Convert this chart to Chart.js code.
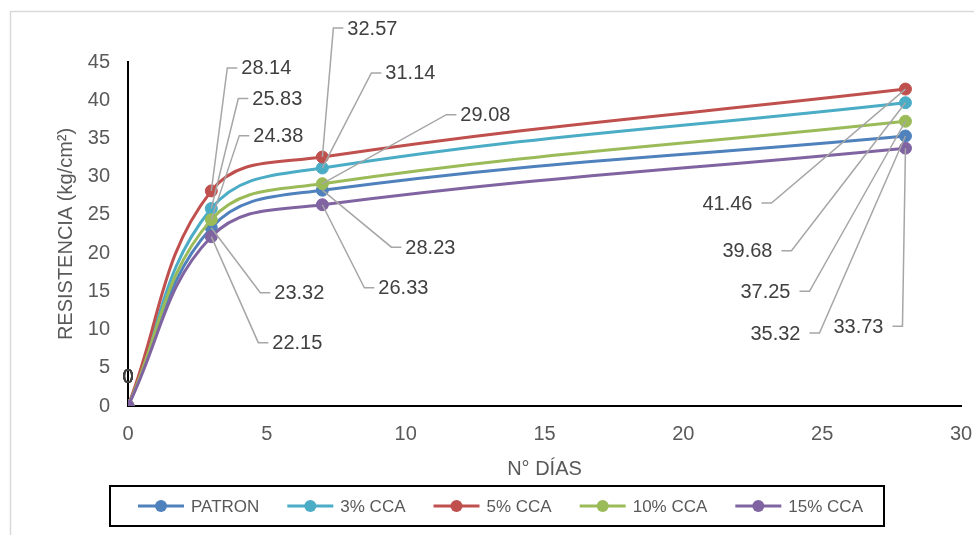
<!DOCTYPE html>
<html>
<head>
<meta charset="utf-8">
<script src="https://cdn.jsdelivr.net/npm/chart.js@4"></script>
<style>
  html, body { margin: 0; padding: 0; background: #fff; }
</style>
</head>
<body>
<canvas id="chart" width="974" height="535"></canvas>
<script>
// data
const dias = [0, 3, 7, 28];
const seriesNames = ["PATRON", "3% CCA", "5% CCA", "10% CCA", "15% CCA"];
const patron = [0, 23.32, 28.23, 35.32];
const cca3 = [0, 25.83, 31.14, 39.68];
const cca5 = [0, 28.14, 32.57, 41.46];
const cca10 = [0, 24.38, 29.08, 37.25];
const cca15 = [0, 22.15, 26.33, 33.73];
const seriesValues = [patron, cca3, cca5, cca10, cca15];

const colors = ["#4F81BD", "#4BACC6", "#C0504D", "#9BBB59", "#8064A2"];
const FONT = "'Liberation Sans', Arial, sans-serif";
const textGray = "#595959";

// where each data label sits, relative to its point (x=3, x=7, x=28)
const labelPos = [
  [[49, 65, "r"], [69, 57, "r"], [-86, 197, "l"]],
  [[27, -110, "r"], [49, -95, "r"], [-114, 148, "l"]],
  [[16, -123, "r"], [11, -129, "r"], [-134, 114, "l"]],
  [[28, -84, "r"], [124, -69, "r"], [-96, 170, "l"]],
  [[47, 106, "r"], [42, 83, "r"], [-3, 178, "l"]],
];

Chart.defaults.font.family = FONT;

const datasets = seriesNames.map((name, i) => ({
  label: name,
  data: dias.map((d, j) => ({ x: d, y: seriesValues[i][j] })),
  borderColor: colors[i],
  backgroundColor: colors[i],
  pointBackgroundColor: colors[i],
  pointBorderColor: colors[i],
  pointRadius: 6,
  pointBorderWidth: 1,
  borderWidth: 3,
  tension: 0.4,
  order: seriesNames.length - i,
}));

const frame = {
  id: "frame",
  beforeDraw(chart) {
    const ctx = chart.ctx;
    ctx.save();
    ctx.fillStyle = "#fff";
    ctx.fillRect(0, 0, chart.width, chart.height);
    ctx.strokeStyle = "#D9D9D9";
    ctx.lineWidth = 1.5;
    ctx.strokeRect(10.5, 11.5, 1000, 600);
    ctx.restore();
  },
};

const leaderLabels = {
  id: "leaderLabels",
  afterDatasetsDraw(chart) {
    const ctx = chart.ctx;
    ctx.save();
    ctx.font = "20px " + FONT;
    ctx.textBaseline = "middle";
    chart.data.datasets.forEach((ds, i) => {
      const meta = chart.getDatasetMeta(i);
      meta.data.forEach((pt, j) => {
        const v = ds.data[j].y;
        const txt = v === 0 ? "0" : v.toFixed(2);
        ctx.fillStyle = "#404040";
        if (j === 0) {
          ctx.textAlign = "center";
          ctx.fillText(txt, pt.x, pt.y - 29);
          return;
        }
        const [dx, dy, side] = labelPos[i][j - 1];
        const cx = pt.x + dx, cy = pt.y + dy;
        const dir = side === "r" ? 1 : -1;
        ctx.strokeStyle = "#A6A6A6";
        ctx.lineWidth = 1.5;
        ctx.beginPath();
        ctx.moveTo(pt.x, pt.y);
        ctx.lineTo(cx, cy);
        ctx.lineTo(cx + dir * 10, cy);
        ctx.stroke();
        ctx.textAlign = side === "r" ? "left" : "right";
        ctx.fillText(txt, cx + dir * (side === "r" ? 14 : 19), cy + 1);
      });
    });
    ctx.restore();
  },
};

const boxLegend = {
  id: "boxLegend",
  afterDraw(chart) {
    const ctx = chart.ctx;
    ctx.save();
    ctx.strokeStyle = "#000";
    ctx.lineWidth = 2;
    ctx.strokeRect(110, 486, 774, 40);
    ctx.font = "17px " + FONT;
    ctx.textBaseline = "middle";
    ctx.textAlign = "left";
    let x = 138;
    const y = 506;
    chart.data.datasets.forEach((ds) => {
      ctx.strokeStyle = ds.borderColor;
      ctx.lineWidth = 3;
      ctx.beginPath();
      ctx.moveTo(x, y);
      ctx.lineTo(x + 46, y);
      ctx.stroke();
      ctx.fillStyle = ds.borderColor;
      ctx.beginPath();
      ctx.arc(x + 23, y, 6, 0, Math.PI * 2);
      ctx.fill();
      ctx.fillStyle = textGray;
      ctx.fillText(ds.label, x + 53, y + 1);
      x += 53 + ctx.measureText(ds.label).width + 28;
    });
    ctx.restore();
  },
};

new Chart(document.getElementById("chart").getContext("2d"), {
  type: "line",
  data: { datasets: datasets },
  options: {
    responsive: false,
    animation: false,
    devicePixelRatio: 1,
    layout: { padding: { left: 10, right: 13, top: 62, bottom: 53 } },
    plugins: {
      legend: { display: false },
      tooltip: { enabled: false },
    },
    scales: {
      x: {
        type: "linear",
        min: 0,
        max: 30,
        grid: { display: false, drawTicks: false },
        border: { display: true, color: "#000", width: 2 },
        ticks: {
          stepSize: 5,
          padding: 16,
          color: textGray,
          font: { size: 20 },
          maxRotation: 0,
        },
        title: {
          display: true,
          text: "N° DÍAS",
          color: textGray,
          font: { size: 20 },
          padding: { top: 0, bottom: 1 },
        },
        afterFit(scale) {
          scale.height = 76;
          scale.paddingLeft = 0;
          scale.paddingRight = 0;
        },
      },
      y: {
        min: 0,
        max: 45,
        grid: { display: false, drawTicks: false },
        border: { display: true, color: "#000", width: 2 },
        ticks: {
          stepSize: 5,
          padding: 18,
          color: textGray,
          font: { size: 20 },
        },
        title: {
          display: true,
          text: "RESISTENCIA (kg/cm²)",
          color: textGray,
          font: { size: 20 },
          padding: { top: 44, bottom: 0 },
        },
        afterFit(scale) {
          scale.width = 118;
        },
      },
    },
  },
  plugins: [frame, leaderLabels, boxLegend],
});
</script>
</body>
</html>
